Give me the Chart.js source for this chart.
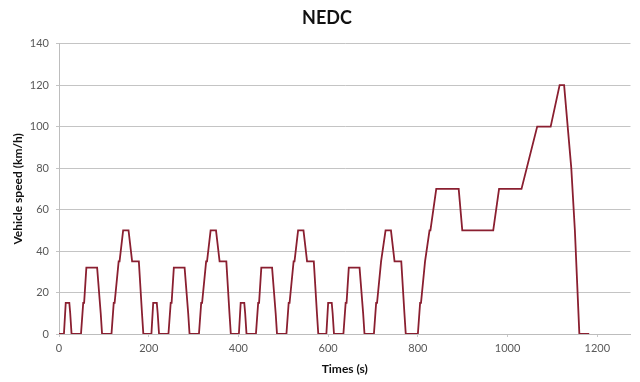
<!DOCTYPE html>
<html>
<head>
<meta charset="utf-8">
<script src="https://cdn.jsdelivr.net/npm/chart.js@4/dist/chart.umd.min.js"></script>
<style>
  html, body { margin: 0; padding: 0; background: #ffffff; }
  #wrap { width: 640px; height: 382px; position: relative; }
</style>
</head>
<body>
<div id="wrap"><canvas id="c" width="640" height="382"></canvas></div>
<script>
// NEDC driving cycle: time (s) and vehicle speed (km/h)
const timeS = [
  0, 11, 15, 23, 25, 28, 49, 54, 56, 61, 85, 93, 96, 117, 122, 124, 133, 135, 143, 155, 163, 176, 178, 185, 188,
  195, 206, 210, 218, 220, 223, 244, 249, 251, 256, 280, 288, 291, 312, 317, 319, 328, 330, 338, 350, 358, 371, 373, 380, 383,
  390, 401, 405, 413, 415, 418, 439, 444, 446, 451, 475, 483, 486, 507, 512, 514, 523, 525, 533, 545, 553, 566, 568, 575, 578,
  585, 596, 600, 608, 610, 613, 634, 639, 641, 646, 670, 678, 681, 702, 707, 709, 718, 720, 728, 740, 748, 761, 763, 770, 773,
  800, 805, 807, 816, 818, 826, 828, 841, 891, 899, 968, 981, 1031, 1066, 1096, 1116, 1126, 1142, 1150, 1160, 1182
];
const speedKmh = [
  0, 0, 15, 15, 10, 0, 0, 15, 15, 32, 32, 10, 0, 0, 15, 15, 35, 35, 50, 50, 35, 35, 35, 10, 0,
  0, 0, 15, 15, 10, 0, 0, 15, 15, 32, 32, 10, 0, 0, 15, 15, 35, 35, 50, 50, 35, 35, 35, 10, 0,
  0, 0, 15, 15, 10, 0, 0, 15, 15, 32, 32, 10, 0, 0, 15, 15, 35, 35, 50, 50, 35, 35, 35, 10, 0,
  0, 0, 15, 15, 10, 0, 0, 15, 15, 32, 32, 10, 0, 0, 15, 15, 35, 35, 50, 50, 35, 35, 35, 10, 0,
  0, 15, 15, 35, 35, 50, 50, 70, 70, 50, 50, 70, 70, 100, 100, 120, 120, 80, 50, 0, 0
];
const xTickValues = [0, 200, 400, 600, 800, 1000, 1200];
const yTickValues = [0, 20, 40, 60, 80, 100, 120, 140];
const chartTitle = 'NEDC';
const xTitle = 'Times (s)';
const yTitle = 'Vehicle speed (km/h)';

const points = timeS.map((t, i) => ({ x: t, y: speedKmh[i] }));
const FONT = 'Lato, "Open Sans", "Liberation Sans", sans-serif';

const bgPlugin = {
  id: 'bg',
  beforeDraw(chart) {
    const ctx = chart.ctx;
    ctx.save();
    ctx.fillStyle = '#ffffff';
    ctx.fillRect(0, 0, chart.width, chart.height);
    ctx.restore();
  }
};

const titlePlugin = {
  id: 'nedcTitle',
  afterDraw(chart) {
    const ctx = chart.ctx;
    ctx.save();
    ctx.fillStyle = '#111111';
    ctx.font = 'bold 18px ' + FONT;
    ctx.textAlign = 'center';
    ctx.textBaseline = 'middle';
    ctx.fillText(chartTitle, 327, 18);
    ctx.restore();
  }
};

new Chart(document.getElementById('c'), {
  type: 'line',
  data: {
    datasets: [{
      data: points,
      borderColor: '#8a1f30',
      borderWidth: 1.8,
      pointRadius: 0,
      tension: 0,
      fill: false
    }]
  },
  options: {
    responsive: false,
    animation: false,
    devicePixelRatio: 1,
    layout: { padding: { left: 0, right: 9.5, top: 43.7, bottom: 0 } },
    plugins: {
      legend: { display: false },
      tooltip: { enabled: false },
      title: { display: false }
    },
    scales: {
      x: {
        type: 'linear',
        min: 0,
        max: 1274,
        afterBuildTicks(scale) {
          scale.ticks = xTickValues.map(v => ({ value: v }));
        },
        afterFit(scale) { scale.height = 48; },
        grid: {
          drawOnChartArea: false,
          drawTicks: true,
          tickLength: 3,
          color: '#c8c8c8'
        },
        border: { display: true, color: '#bdbdbd', width: 1 },
        ticks: {
          color: '#595959',
          font: { family: FONT, size: 11 },
          padding: 5,
          maxRotation: 0,
          callback: v => String(v)
        },
        title: {
          display: true,
          text: xTitle,
          color: '#111111',
          font: { family: FONT, size: 12, weight: 'bold' },
          padding: { top: 0, bottom: 6 }
        }
      },
      y: {
        min: 0,
        max: 140,
        afterBuildTicks(scale) {
          scale.ticks = yTickValues.map(v => ({ value: v }));
        },
        afterFit(scale) { scale.width = 59; },
        grid: {
          color: '#c4c4c4',
          lineWidth: 1,
          drawTicks: true,
          tickLength: 3
        },
        border: { display: true, color: '#bdbdbd', width: 1 },
        ticks: {
          color: '#595959',
          font: { family: FONT, size: 11 },
          padding: 7,
          callback: v => String(v)
        },
        title: {
          display: true,
          text: yTitle,
          color: '#111111',
          font: { family: FONT, size: 12, weight: 'bold' },
          padding: { top: 11, bottom: 0 }
        }
      }
    }
  },
  plugins: [bgPlugin, titlePlugin]
});
</script>
</body>
</html>
